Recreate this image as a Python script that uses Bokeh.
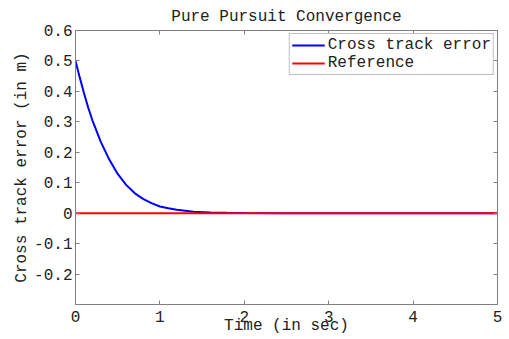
from bokeh.plotting import figure
from bokeh.models import LinearAxis, FixedTicker, Range1d, Legend, LegendItem
from bokeh.embed import file_html
from bokeh.resources import INLINE

# Data
time_s = [0, 0.05, 0.1, 0.15, 0.2, 0.3, 0.4, 0.5, 0.6, 0.7, 0.8, 0.9, 1.0, 1.1, 1.2, 1.4, 1.6, 1.8, 2.0, 2.5, 3.0, 4.0, 5.0]
cross_track = [0.5, 0.446, 0.395, 0.347, 0.305, 0.234, 0.176, 0.129, 0.093, 0.066, 0.047, 0.033, 0.022,
               0.016, 0.011, 0.005, 0.0025, 0.001, 0.0005, 0.0001, 0.0, 0.0, 0.0]
ref_t = [0, 5]
ref_v = [0, 0]
x_ticks = [0, 1, 2, 3, 4, 5]
y_ticks = [-0.2, -0.1, 0, 0.1, 0.2, 0.3, 0.4, 0.5, 0.6]
y_labels = {-0.2: "-0.2", -0.1: "-0.1", 0: "0", 0.1: "0.1", 0.2: "0.2", 0.3: "0.3",
            0.4: "0.4", 0.5: "0.5", 0.6: "0.6"}

FONT = "Liberation Mono"
GRAY = "#808080"
FS = "16px"

p = figure(width=509, height=339, output_backend="svg", toolbar_location=None,
           x_range=Range1d(0, 5), y_range=Range1d(-0.3, 0.6),
           title="Pure Pursuit Convergence",
           min_border_left=75, min_border_right=12, min_border_top=30, min_border_bottom=35)

p.title.align = "center"
p.title.text_font = FONT
p.title.text_font_style = "normal"
p.title.text_font_size = FS
p.title.text_color = "#222222"

p.background_fill_color = "white"
p.border_fill_color = "white"
p.outline_line_color = GRAY
p.xgrid.visible = False
p.ygrid.visible = False

def style_axis(ax):
    ax.axis_line_color = GRAY
    ax.major_tick_line_color = GRAY
    ax.minor_tick_line_color = None
    ax.major_tick_in = 4
    ax.major_tick_out = 0
    ax.major_label_text_font = FONT
    ax.major_label_text_font_size = FS
    ax.major_label_text_color = "#222222"
    ax.axis_label_text_font = FONT
    ax.axis_label_text_font_size = FS
    ax.axis_label_text_font_style = "normal"
    ax.axis_label_text_color = "#222222"

xa = p.xaxis[0]
ya = p.yaxis[0]
xa.ticker = FixedTicker(ticks=x_ticks)
ya.ticker = FixedTicker(ticks=y_ticks)
ya.major_label_overrides = y_labels
style_axis(xa)
style_axis(ya)
xa.axis_label = "Time (in sec)"
ya.axis_label = "Cross track error (in m)"
xa.major_label_standoff = 6
xa.axis_label_standoff = -8
ya.major_label_standoff = 3
ya.axis_label_standoff = 0

top = LinearAxis(ticker=FixedTicker(ticks=x_ticks))
right = LinearAxis(ticker=FixedTicker(ticks=y_ticks))
style_axis(top)
style_axis(right)
top.major_label_overrides = {t: "" for t in x_ticks}
right.major_label_overrides = {t: "" for t in y_ticks}
top.major_label_standoff = 0
right.major_label_standoff = 0
p.add_layout(top, "above")
p.add_layout(right, "right")

r1 = p.line(time_s, cross_track, line_color="#0000ff", line_width=2)
r2 = p.line(ref_t, ref_v, line_color="#ff0000", line_width=2)

legend = Legend(items=[LegendItem(label="Cross track error", renderers=[r1]),
                       LegendItem(label="Reference", renderers=[r2])],
                location="top_right")
legend.margin = 3
legend.padding = 2
legend.spacing = 0
legend.label_standoff = 3
legend.glyph_width = 33
legend.glyph_height = 16
legend.label_height = 16
legend.label_text_font = FONT
legend.label_text_font_size = FS
legend.label_text_color = "#222222"
legend.label_text_line_height = 1.0
legend.border_line_color = GRAY
legend.border_line_width = 1
legend.background_fill_alpha = 1
p.add_layout(legend, "center")

open("out.html", "w").write(file_html(p, INLINE))
